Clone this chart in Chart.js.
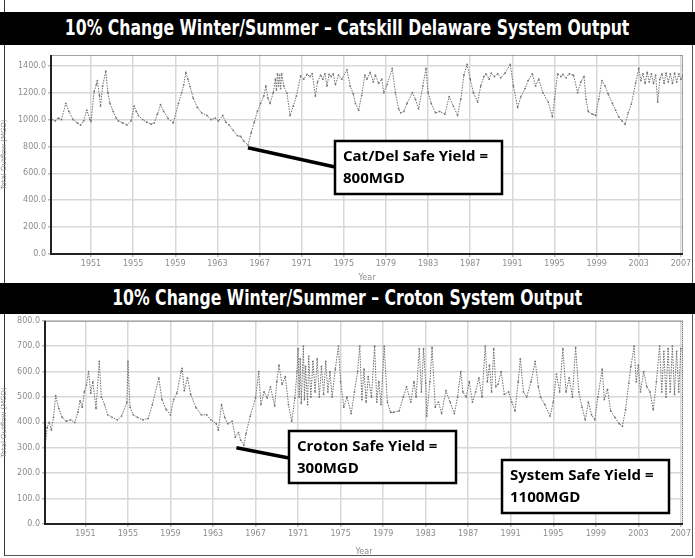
<!DOCTYPE html>
<html>
<head>
<meta charset="utf-8">
<script src="https://cdn.jsdelivr.net/npm/chart.js@4/dist/chart.umd.min.js"></script>
<style>
  html, body { margin: 0; padding: 0; background: #fff; }
  body { width: 695px; height: 558px; position: relative; overflow: hidden; }
  .bar { position: absolute; left: 0; width: 695px; background: #000; color: #fff;
         font-family: "DejaVu Sans Condensed", "DejaVu Sans", sans-serif;
         font-weight: bold; font-size: 21px; text-align: center; white-space: nowrap; }
  .bar span { display: inline-block; transform: scaleX(0.83); transform-origin: center; }
  .frame { position: absolute; left: 4px; top: 0; width: 687px; height: 555px;
           border-left: 1px solid #333; border-right: 1px solid #555; border-bottom: 1px solid #555; }
  canvas { position: absolute; left: 0; }
</style>
</head>
<body>
<div class="frame"></div>
<div class="bar" style="top:12px;height:33px;line-height:33px;"><span>10% Change Winter/Summer – Catskill Delaware System Output</span></div>
<canvas id="c1" width="695" height="238" style="top:45px"></canvas>
<div class="bar" style="top:283px;height:31px;line-height:31px;"><span>10% Change Winter/Summer – Croton System Output</span></div>
<canvas id="c2" width="695" height="243" style="top:314px"></canvas>
<script>
// ---------- DATA ----------
const xTickYears = [1951,1955,1959,1963,1967,1971,1975,1979,1983,1987,1991,1995,1999,2003,2007];
const catYTicks = [0,200,400,600,800,1000,1200,1400];
const crotonYTicks = [0,100,200,300,400,500,600,700,800];

const catYears = [1947.3,1947.6,1947.9,1948.2,1948.6,1948.9,1949.3,1949.7,1950.0,1950.3,1950.6,1950.9,1951.0,1951.3,1951.5,1951.6,1951.8,1951.9,1952.1,1952.4,1952.6,1952.8,1953.1,1953.4,1953.6,1954.0,1954.4,1954.8,1955.1,1955.3,1955.5,1955.9,1956.3,1956.7,1957.0,1957.3,1957.6,1957.9,1958.3,1958.8,1959.3,1959.6,1959.8,1960.0,1960.2,1960.4,1960.7,1961.1,1961.5,1962.0,1962.4,1962.8,1963.1,1963.5,1963.8,1964.1,1964.5,1964.9,1965.2,1965.5,1965.9,1966.2,1966.5,1966.8,1967.1,1967.4,1967.6,1967.8,1968.0,1968.3,1968.5,1968.6,1968.7,1968.8,1968.9,1969.0,1969.1,1969.3,1969.6,1969.9,1970.2,1970.5,1970.9,1971.2,1971.5,1971.8,1972.0,1972.3,1972.5,1972.8,1973.0,1973.2,1973.4,1973.6,1973.8,1974.0,1974.2,1974.5,1974.8,1975.3,1975.6,1975.9,1976.1,1976.4,1976.7,1977.0,1977.2,1977.5,1977.8,1978.0,1978.3,1978.6,1978.8,1979.1,1979.6,1979.9,1980.2,1980.4,1980.7,1981.0,1981.5,1981.8,1982.1,1982.5,1982.8,1983.0,1983.3,1983.7,1984.1,1984.6,1985.0,1985.4,1985.8,1986.1,1986.4,1986.7,1987.0,1987.3,1987.7,1988.0,1988.3,1988.5,1988.8,1989.0,1989.3,1989.6,1989.9,1990.3,1990.8,1991.1,1991.5,1991.8,1992.2,1992.5,1992.9,1993.2,1993.5,1993.9,1994.4,1994.8,1995.0,1995.3,1995.6,1995.8,1996.1,1996.4,1996.8,1997.2,1997.5,1997.8,1998.0,1998.2,1998.6,1998.9,1999.2,1999.5,1999.8,2000.1,2000.5,2000.8,2001.1,2001.4,2001.7,2002.0,2002.3,2002.7,2003.0,2003.2,2003.4,2003.6,2003.8,2004.0,2004.2,2004.4,2004.6,2004.8,2005.0,2005.2,2005.4,2005.6,2005.8,2006.0,2006.2,2006.4,2006.6,2006.8,2007.0,2007.2];
const catValues = [1000,990,1010,1000,1120,1060,1000,975,960,990,1070,1000,985,1210,1260,1290,1180,1100,1250,1360,1200,1120,1060,1010,990,975,960,990,1100,1060,1030,1000,980,965,975,1040,1110,1060,1010,975,1120,1200,1258,1350,1300,1245,1160,1090,1050,1030,1000,1010,990,1030,980,960,920,880,875,840,810,900,980,1063,1120,1175,1250,1160,1120,1200,1300,1220,1340,1250,1330,1230,1340,1250,1195,1030,1100,1175,1325,1300,1335,1320,1340,1175,1280,1330,1300,1340,1250,1335,1320,1340,1260,1330,1300,1370,1250,1190,1120,1070,1180,1330,1300,1350,1280,1330,1270,1300,1200,1260,1380,1200,1080,1050,1060,1120,1200,1150,1080,1250,1380,1200,1120,1050,1060,1040,1170,1100,1030,1150,1330,1410,1300,1200,1130,1250,1320,1340,1300,1345,1320,1340,1310,1345,1410,1250,1090,1170,1230,1290,1340,1250,1300,1200,1130,1020,1150,1340,1320,1335,1310,1340,1330,1200,1280,1320,1150,1060,1040,1030,1150,1290,1250,1190,1120,1070,1020,990,965,1050,1115,1270,1380,1290,1340,1270,1350,1280,1340,1270,1330,1130,1300,1340,1270,1345,1280,1340,1270,1345,1280,1340,1300,1330];

const crotonYears = [1947.2,1947.4,1947.6,1947.8,1948.0,1948.2,1948.5,1948.8,1949.2,1949.6,1950.0,1950.3,1950.5,1950.7,1950.9,1951.1,1951.3,1951.5,1951.7,1952.0,1952.3,1952.5,1952.8,1953.1,1953.5,1954.0,1954.4,1954.9,1955.0,1955.2,1955.5,1955.9,1956.4,1956.9,1957.3,1957.9,1958.2,1958.6,1959.0,1959.3,1959.6,1960.0,1960.1,1960.3,1960.6,1960.9,1961.4,1961.9,1962.4,1962.8,1963.3,1963.5,1963.8,1964.1,1964.4,1964.8,1965.1,1965.4,1965.6,1965.9,1966.1,1966.5,1967.0,1967.3,1967.5,1967.8,1968.1,1968.4,1968.8,1969.0,1969.2,1969.5,1969.8,1970.1,1970.4,1970.7,1970.9,1971.0,1971.1,1971.2,1971.3,1971.5,1971.6,1971.7,1971.9,1972.0,1972.2,1972.4,1972.6,1972.8,1973.0,1973.2,1973.4,1973.6,1973.8,1974.0,1974.2,1974.5,1974.8,1975.0,1975.3,1975.6,1976.0,1976.3,1976.6,1976.8,1977.0,1977.2,1977.4,1977.6,1977.9,1978.2,1978.4,1978.6,1978.8,1979.1,1979.4,1979.7,1980.0,1980.5,1980.9,1981.2,1981.6,1981.9,1982.1,1982.4,1982.6,1982.8,1983.0,1983.1,1983.4,1983.6,1983.9,1984.2,1984.5,1984.9,1985.3,1985.7,1986.0,1986.3,1986.5,1986.8,1987.1,1987.4,1987.7,1988.0,1988.3,1988.6,1988.8,1989.0,1989.2,1989.4,1989.6,1989.8,1990.1,1990.4,1990.8,1991.1,1991.4,1991.7,1991.9,1992.2,1992.5,1992.9,1993.3,1993.6,1993.8,1994.2,1994.7,1995.0,1995.3,1995.6,1995.9,1996.2,1996.5,1996.8,1997.1,1997.4,1997.7,1998.0,1998.3,1998.6,1998.9,1999.2,1999.6,1999.8,2000.1,2000.4,2000.8,2001.2,2001.5,2001.8,2002.1,2002.3,2002.6,2002.8,2003.0,2003.2,2003.5,2003.8,2004.1,2004.4,2004.7,2005.0,2005.2,2005.4,2005.6,2005.8,2006.0,2006.2,2006.4,2006.6,2006.8,2007.0];
const crotonValues = [300,380,400,370,420,505,455,420,405,410,400,440,485,460,520,547,600,515,560,455,640,500,470,430,420,410,425,478,640,460,430,420,410,415,470,575,490,450,430,490,515,600,613,525,575,510,458,430,430,410,395,370,470,420,395,405,342,360,330,310,355,425,496,600,470,520,496,540,465,560,625,550,580,470,405,496,600,690,500,650,475,700,490,620,470,660,500,640,520,650,500,620,510,640,520,600,500,610,700,560,460,500,435,520,600,700,490,610,480,580,500,700,480,560,470,700,480,440,440,445,500,540,480,560,500,690,520,690,555,425,560,695,460,480,435,525,480,435,500,600,520,500,560,480,520,575,500,700,560,625,520,690,540,550,600,510,520,480,445,560,650,520,500,560,640,540,500,470,425,480,590,520,690,520,575,500,695,520,460,410,480,430,410,500,610,490,530,445,420,395,385,450,555,620,700,560,625,520,600,540,520,450,560,700,520,680,500,690,520,700,510,680,520,690];

// ---------- RENDERING ----------
const tickFont = { family: "'DejaVu Sans', sans-serif", size: 8 };
const greyText = '#8c8c8c';

const frameAndCallouts = {
  id: 'frameAndCallouts',
  afterDraw(chart, args, opts) {
    const ctx = chart.ctx, a = chart.chartArea;
    const xs = chart.scales.x, ys = chart.scales.y;
    ctx.save();
    ctx.strokeStyle = '#444';
    ctx.lineWidth = 1;
    ctx.setLineDash([1, 1]);
    ctx.strokeRect(a.left + 0.5, a.top + 0.5, a.right - a.left - 1, a.bottom - a.top - 1);
    ctx.setLineDash([]);
    ctx.strokeStyle = '#222';
    ctx.lineWidth = 2;
    ctx.beginPath();
    ctx.moveTo(a.left, a.top); ctx.lineTo(a.left, a.bottom); ctx.lineTo(a.right, a.bottom);
    ctx.stroke();
    (opts.callouts || []).forEach(c => {
      if (c.anchor) {
        ctx.strokeStyle = '#000';
        ctx.lineWidth = 3.5;
        ctx.beginPath();
        ctx.moveTo(xs.getPixelForValue(c.anchor[0]), ys.getPixelForValue(c.anchor[1]));
        ctx.lineTo(c.box[0], c.lineY);
        ctx.stroke();
      }
      const [bx, by, bw, bh] = c.box;
      ctx.fillStyle = '#fff';
      ctx.fillRect(bx, by, bw, bh);
      ctx.strokeStyle = '#000';
      ctx.lineWidth = 2.5;
      ctx.strokeRect(bx, by, bw, bh);
      ctx.fillStyle = '#000';
      ctx.font = "bold 15px 'Open Sans', 'Noto Sans', sans-serif";
      ctx.textBaseline = 'middle';
      ctx.fillText(c.text[0], bx + 8, by + 16);
      ctx.fillText(c.text[1], bx + 8, by + 38);
    });
    ctx.restore();
  }
};

function makeChart(id, years, values, yTicks, yMax, yWidth, padTop, xHeight, callouts) {
  const pts = years.map((x, i) => ({ x, y: values[i] }));
  return new Chart(document.getElementById(id), {
    type: 'scatter',
    data: { datasets: [{
      data: pts, showLine: true,
      borderColor: '#6f6f6f', borderWidth: 1, borderDash: [1.5, 1.2],
      pointRadius: 0.9, pointBackgroundColor: '#777', pointBorderWidth: 0,
      tension: 0
    }]},
    options: {
      responsive: false, animation: false,
      layout: { padding: { top: padTop, right: 12, left: 0, bottom: 0 } },
      plugins: { legend: { display: false }, tooltip: { enabled: false },
                 frameAndCallouts: { callouts } },
      scales: {
        x: {
          type: 'linear', min: 1947.2, max: 2007.2,
          afterBuildTicks: s => { s.ticks = xTickYears.map(v => ({ value: v })); },
          afterFit: s => { s.height = xHeight; },
          grid: { color: '#d8d8d8', lineWidth: 1.5, drawTicks: true, tickLength: 3, tickColor: '#bbb' },
          border: { display: false },
          ticks: { color: greyText, font: tickFont, padding: 2, maxRotation: 0, autoSkip: false,
                   callback: v => String(v) },
          title: { display: true, text: 'Year', color: greyText, font: { family: "'DejaVu Sans', sans-serif", size: 8 }, padding: 0 }
        },
        y: {
          min: 0, max: yMax,
          afterBuildTicks: s => { s.ticks = yTicks.map(v => ({ value: v })); },
          afterFit: s => { s.width = yWidth; },
          grid: { color: '#d8d8d8', lineWidth: 1.5, tickLength: 3, tickColor: '#bbb' },
          border: { display: false },
          ticks: { color: greyText, font: tickFont, padding: 2, callback: v => v.toFixed(1) },
          title: { display: true, text: 'Total Outflow (MGD)', color: greyText, font: { family: "'DejaVu Sans', sans-serif", size: 7 }, padding: 0 }
        }
      }
    },
    plugins: [frameAndCallouts]
  });
}

makeChart('c1', catYears, catValues, catYTicks, 1480, 51, 10, 29, [
  { anchor: [1965.9, 790], lineY: 122, box: [335, 96, 167, 53], text: ['Cat/Del Safe Yield =', '800MGD'] }
]);
makeChart('c2', crotonYears, crotonValues, crotonYTicks, 800, 45, 5, 33, [
  { anchor: [1965.2, 300], lineY: 144, box: [289, 117, 167, 52], text: ['Croton Safe Yield =', '300MGD'] },
  { box: [502, 146, 167, 53], text: ['System Safe Yield =', '1100MGD'] }
]);
</script>
</body>
</html>
